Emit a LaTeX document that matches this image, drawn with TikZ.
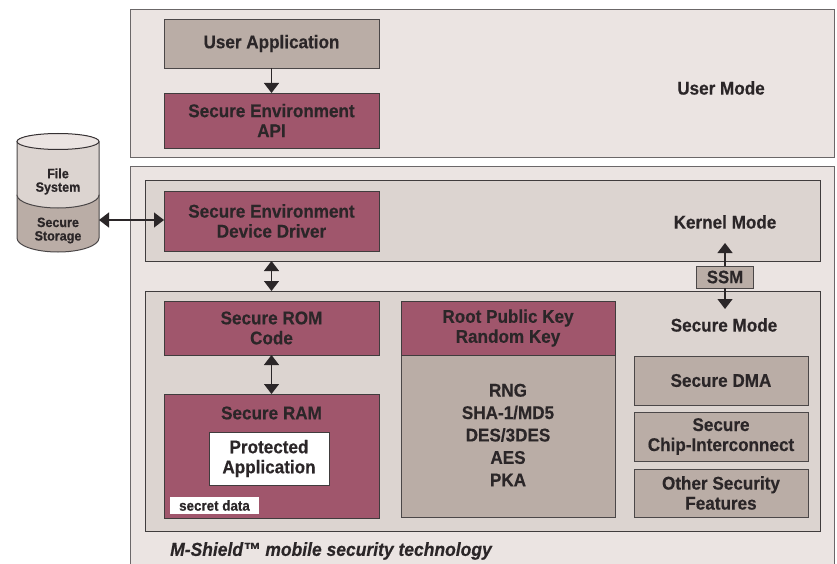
\documentclass[tikz,border=0pt]{standalone}
\usepackage{fontspec}
\setmainfont{Liberation Sans}[FakeStretch=0.93,BoldFeatures={FakeBold=0.4},BoldItalicFeatures={FakeBold=0.4}]
\usetikzlibrary{arrows.meta}
\definecolor{panelout}{HTML}{EBE4E2}
\definecolor{panelin}{HTML}{DCD4D0}
\definecolor{taupe}{HTML}{BAADA6}
\definecolor{plum}{HTML}{A0566C}
\definecolor{ink}{HTML}{2B2628}
\tikzset{
 pxbox/.style 2 args={minimum width=#1pt,minimum height=#2pt,inner sep=0pt,outer sep=0pt,align=center,anchor=center,text=ink,font=\fontsize{18.4}{20}\selectfont\bfseries},
 outerp/.style={draw=ink!70,line width=1pt,fill=panelout},
 innerp/.style={draw=ink!90,line width=1pt,fill=panelin},
 plumb/.style={draw=ink!90,line width=.9pt,fill=plum},
 taupeb/.style={draw=ink!85,line width=.9pt,fill=taupe},
 lab/.style={text=ink,font=\fontsize{18.4}{20}\selectfont\bfseries,inner sep=0pt,align=center},
 conn/.style={draw=ink,line width=1.2pt,{Triangle[length=10pt,width=15pt]}-{Triangle[length=10pt,width=15pt]}},
 conr/.style={draw=ink,line width=1.2pt,-{Triangle[length=10pt,width=15pt]}}
}
\begin{document}
\begin{tikzpicture}[x=1pt,y=-1pt]
\useasboundingbox (0,0) rectangle (837,564);
\fill[white] (0,0) rectangle (837,564);
% panels
\node[outerp,pxbox={704}{148}] (userp) at (482,84) {};
\node[lab] (usermode) at (721,88) {User Mode};
\fill[panelout] (130,167) rectangle (834,564);
\coordinate (mbl) at (130,564); \coordinate (mtl) at (130,167);
\coordinate (mtr) at (834,167); \coordinate (mbr) at (834,564);
\draw[ink!70,line width=1pt] (mbl) -- (mtl) -- (mtr) -- (mbr);
\node[innerp,pxbox={675}{80}] (kernel) at (482.5,221) {};
\node[innerp,pxbox={675}{240}] (secure) at (482.5,411) {};
% user
\node[taupeb,pxbox={215}{49}] (app) at (271.5,43.5) {User Application};
\node[plumb,pxbox={215}{55}] (api) at (271.5,120.5) {Secure Environment\\API};
\draw[conr] (app) -- (api);
% kernel
\node[plumb,pxbox={215}{60}] (drv) at (271.5,221) {Secure Environment\\Device Driver};
\node[lab] (kmode) at (725,222) {Kernel Mode};
% secure
\node[plumb,pxbox={215}{54}] (rom) at (271.5,328) {Secure ROM\\Code};
\node[plumb,pxbox={215}{124}] (ram) at (271.5,456) {};
\node[lab] (ramt) at (271.5,413) {Secure RAM};
\node[fill=white,draw=ink!90,line width=.9pt,pxbox={120}{53}] (prot) at (269,458.5) {Protected\\Application};
\node[fill=white,pxbox={89}{17},font=\fontsize{14.4}{14}\selectfont\bfseries] (sec) at (214.5,505.5) {secret data};
\node[taupeb,pxbox={214}{162}] (algo) at (508,436) {};
\node[lab,font=\fontsize{18.4}{22.4}\selectfont\bfseries] (algot) at (508,435) {RNG\\SHA-1/MD5\\DES/3DES\\AES\\PKA};
\node[plumb,pxbox={214}{54}] (root) at (508,328) {Root Public Key\\Random Key};
\node[lab] (smode) at (724,325) {Secure Mode};
\node[taupeb,pxbox={174}{49}] (dma) at (721,380.5) {Secure DMA};
\node[taupeb,pxbox={174}{49}] (chip) at (721,436.5) {Secure\\Chip-Interconnect};
\node[taupeb,pxbox={174}{48}] (other) at (721,493) {Other Security\\Features};
\node[taupeb,pxbox={57}{22},font=\fontsize{18}{20}\selectfont\bfseries] (ssm) at (725,277) {SSM};
\coordinate (ku) at (725,243); \coordinate (sd) at (725,309);
\draw[conr] (ssm) -- (ku);
\draw[conr] (ssm) -- (sd);
\draw[conn] (rom) -- (ram);
\draw[conn] (drv |- kernel.south) -- (drv |- secure.north);
% M-Shield
\node[lab,anchor=west,font=\fontsize{18.8}{20}\selectfont\bfseries\itshape] (ms) at (170,551) {M-Shield™ mobile security technology};
% cylinder
\filldraw[draw=ink!85,line width=1pt,fill=taupe] (17,195) -- (17,238) arc[start angle=180,end angle=0,x radius=41,y radius=14] -- (99,195) -- cycle;
\filldraw[draw=ink!85,line width=1pt,fill=panelin] (17,142) -- (17,195) arc[start angle=180,end angle=0,x radius=41,y radius=13] -- (99,142) arc[start angle=0,end angle=-180,x radius=41,y radius=8] -- cycle;
\filldraw[draw=ink!95,line width=1pt,fill=panelout] (58,141.5) ellipse[x radius=41,y radius=8];
\node[lab,font=\fontsize{13.5}{13.5}\selectfont\bfseries] (fs) at (58,181.5) {File\\System};
\node[lab,font=\fontsize{13.5}{13.5}\selectfont\bfseries] (ss) at (58,230.5) {Secure\\Storage};
\coordinate (cyl) at (99,220);
\draw[conn] (cyl) -- (drv.west |- cyl);
\end{tikzpicture}
\end{document}
